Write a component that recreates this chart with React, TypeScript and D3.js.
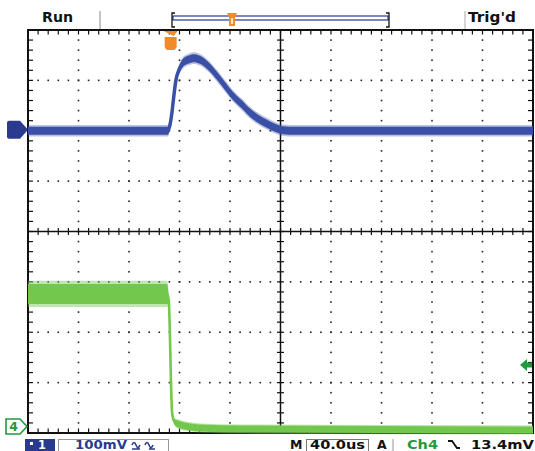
import React from 'react';
import * as d3 from 'd3';

const W = 535;
const H = 451;

// Horizontal: 10 divisions, 40 µs/div ; vertical: 8 divisions
const TIME_PER_DIV_US = 40;
const H_DIVS = 10;
const V_DIVS = 8;
const MINOR_PER_DIV = 5;

// Channel 1 (blue, 100 mV/div), ground marker at +2 div
const CH1_MV_PER_DIV = 100;
const CH1_POSITION_DIV = 2.0;
const ch1TimeUs = [0, 110.9, 112.5, 114.1, 115.6, 117.2, 119.6, 122.8, 126.7, 131.5, 136.2, 142.6, 149.7, 156.0, 162.4, 169.5, 175.8, 182.2, 189.3, 195.6, 202.0, 211.5, 400];
const ch1Mv = [0, 0, 12, 38, 71, 101, 121, 135, 141, 144, 141, 129, 109, 89, 69, 52, 36, 24, 14, 6, 1, 0, 0];
const ch1NoiseMv = [8, 8, 6, 4, 4, 5, 7, 8, 8, 8, 8, 8, 8, 8, 8, 8, 8, 8, 8, 8, 8, 8, 8];

// Channel 4 (green), values in divisions above its ground marker
const CH4_POSITION_DIV = -3.94;
const ch4TimeUs = [0, 110.1, 110.9, 111.7, 112.5, 113.3, 114.1, 115.6, 118.8, 124.3, 136.2, 167.9, 400];
const ch4Div = [2.7, 2.7, 2.66, 2.48, 1.79, 0.89, 0.36, 0.18, 0.12, 0.08, 0.04, 0.02, 0];
const ch4NoiseDiv = [0.2, 0.2, 0.15, 0.04, 0.02, 0.02, 0.03, 0.05, 0.07, 0.07, 0.07, 0.07, 0.07];

// Trigger
const TRIGGER_US = 113;
const CH4_TRIG_LEVEL_DIV = 1.29;

// Readout labels
const topLeftLabel = 'Run';
const topRightLabel = "Trig'd";
const ch1Label = '1';
const ch1Scale = '100mV';
const timebaseLabel = '40.0us';
const trigSourceLabel = 'Ch4';
const trigLevelLabel = '13.4mV';

const BLUE = '#3a4fa6';
const BLUE_DARK = '#2a3a8e';
const GREEN = '#72c74c';
const GREEN_DARK = '#1e9b3c';
const ORANGE = '#f28a2a';
const FONT = '"DejaVu Sans", Verdana, sans-serif';

export default function App() {
  const x = d3.scaleLinear().domain([0, H_DIVS * TIME_PER_DIV_US]).range([28, 533]);
  const y = d3.scaleLinear().domain([-V_DIVS / 2, V_DIVS / 2]).range([433, 30]);

  const x0 = x(0), x1 = x(H_DIVS * TIME_PER_DIV_US);
  const y0 = y(-V_DIVS / 2), y1 = y(V_DIVS / 2);
  const xc = x(H_DIVS * TIME_PER_DIV_US / 2), yc = y(0);

  const minorT = d3.range(0, H_DIVS * MINOR_PER_DIV + 1).map(i => (i * TIME_PER_DIV_US) / MINOR_PER_DIV);
  const minorV = d3.range(0, V_DIVS * MINOR_PER_DIV + 1).map(i => -V_DIVS / 2 + i / MINOR_PER_DIV);
  const majorT = d3.range(1, H_DIVS).filter(i => i !== H_DIVS / 2).map(i => i * TIME_PER_DIV_US);
  const majorV = d3.range(-V_DIVS / 2 + 1, V_DIVS / 2).filter(v => v !== 0);

  const dots: { cx: number; cy: number }[] = [];
  majorT.forEach(t => minorV.slice(1, -1).forEach(v => dots.push({ cx: x(t), cy: y(v) })));
  majorV.forEach(v => minorT.slice(1, -1).forEach(t => dots.push({ cx: x(t), cy: y(v) })));

  // Channel 1 paths
  const ch1Pts = ch1TimeUs.map((t, i) => ({ t, v: ch1Mv[i], n: ch1NoiseMv[i] }));
  const c1y = (mv: number) => y(CH1_POSITION_DIV + mv / CH1_MV_PER_DIV);
  const ch1Area = d3.area<any>().x(d => x(d.t)).y0(d => c1y(d.v - d.n)).y1(d => c1y(d.v + d.n)).curve(d3.curveMonotoneX)(ch1Pts) || '';
  const ch1AreaWide = d3.area<any>().x(d => x(d.t)).y0(d => c1y(d.v - d.n * 1.45)).y1(d => c1y(d.v + d.n * 1.45)).curve(d3.curveMonotoneX)(ch1Pts) || '';
  const ch1Line = d3.line<any>().x(d => x(d.t)).y(d => c1y(d.v)).curve(d3.curveMonotoneX)(ch1Pts) || '';

  // Channel 4 paths
  const ch4Pts = ch4TimeUs.map((t, i) => ({ t, v: ch4Div[i], n: ch4NoiseDiv[i] }));
  const c4y = (dv: number) => y(CH4_POSITION_DIV + dv);
  const ch4Area = d3.area<any>().x(d => x(d.t)).y0(d => c4y(d.v - d.n)).y1(d => c4y(d.v + d.n)).curve(d3.curveMonotoneX)(ch4Pts) || '';
  const ch4AreaWide = d3.area<any>().x(d => x(d.t)).y0(d => c4y(d.v - d.n * 1.3)).y1(d => c4y(d.v + d.n * 1.3)).curve(d3.curveMonotoneX)(ch4Pts) || '';
  const ch4Line = d3.line<any>().x(d => x(d.t)).y(d => c4y(d.v)).curve(d3.curveMonotoneX)(ch4Pts) || '';

  const tx = x(TRIGGER_US);
  const ch1G = c1y(0);
  const ch4G = c4y(0);
  const trigY = c4y(CH4_TRIG_LEVEL_DIV);
  const FY = 449; // footer baseline

  return (
    <svg width={W} height={H} style={{ position: 'absolute', left: 0, top: 0, background: '#fff' }} fontFamily={FONT}>
      <rect x={0} y={0} width={W} height={H} fill="#fff" />

      {/* header */}
      <text x={42} y={22} fontSize={13.5} fontWeight="bold" fill="#111" textLength={31} lengthAdjust="spacingAndGlyphs">{topLeftLabel}</text>
      <line x1={100} x2={100} y1={11} y2={29} stroke="#888" strokeWidth={1} />
      <line x1={465} x2={465} y1={11} y2={29} stroke="#aaa" strokeWidth={1} />
      <text x={468} y={22} fontSize={13.5} fontWeight="bold" fill="#111" textLength={48} lengthAdjust="spacingAndGlyphs">{topRightLabel}</text>
      {/* record bar */}
      <rect x={173} y={16} width={215} height={4} fill="none" stroke={BLUE_DARK} strokeWidth={1.2} />
      <path d="M175,13 L172,13 L172,27 L175,27" fill="none" stroke="#111" strokeWidth={1.3} />
      <path d="M386,13 L389,13 L389,27 L386,27" fill="none" stroke="#111" strokeWidth={1.3} />
      <path d="M227,13 L237,13 L235,17 L235,26 L229,26 L229,17 Z" fill={ORANGE} />
      <rect x={231.2} y={18} width={1.6} height={6} fill="#fff" />

      {/* dotted grid */}
      {dots.map((d, i) => (
        <rect key={i} x={d.cx - 0.8} y={d.cy - 0.8} width={1.6} height={1.6} fill="#222" />
      ))}

      {/* border & center ticks */}
      {minorT.slice(1, -1).map((t, i) => (
        <g key={'t' + i} stroke="#111" strokeWidth={1.2}>
          <line x1={x(t)} x2={x(t)} y1={y1} y2={y1 + 4.5} />
          <line x1={x(t)} x2={x(t)} y1={y0} y2={y0 - 4.5} />
          <line x1={x(t)} x2={x(t)} y1={yc - 3.5} y2={yc + 3.5} />
        </g>
      ))}
      {minorV.slice(1, -1).map((v, i) => (
        <g key={'v' + i} stroke="#111" strokeWidth={1.2}>
          <line x1={x0} x2={x0 + 5} y1={y(v)} y2={y(v)} />
          <line x1={x1} x2={x1 - 5} y1={y(v)} y2={y(v)} />
          <line x1={xc - 3.5} x2={xc + 3.5} y1={y(v)} y2={y(v)} />
        </g>
      ))}
      <line x1={xc} x2={xc} y1={y1} y2={y0} stroke="#111" strokeWidth={1.5} />
      <line x1={x0} x2={x1} y1={yc} y2={yc} stroke="#111" strokeWidth={1.5} />
      <rect x={x0} y={y1} width={x1 - x0} height={y0 - y1} fill="none" stroke="#111" strokeWidth={2} />

      {/* channel 4 trace */}
      <path d={ch4AreaWide} fill={GREEN} opacity={0.45} />
      <path d={ch4Area} fill={GREEN} />
      <path d={ch4Line} fill="none" stroke={GREEN} strokeWidth={2.6} />

      {/* channel 1 trace */}
      <path d={ch1AreaWide} fill={BLUE} opacity={0.35} />
      <path d={ch1Area} fill={BLUE} />
      <path d={ch1Line} fill="none" stroke={BLUE} strokeWidth={3.5} />

      {/* trigger position marker */}
      <path d={`M${tx - 7},${y1 + 1} L${tx + 7},${y1 + 1} L${tx + 3},${y1 + 6} Z`} fill={ORANGE} />
      <path d={`M${tx - 6},${y1 + 7} L${tx + 6},${y1 + 7} L${tx + 6},${y1 + 17} L${tx + 4},${y1 + 20} L${tx - 4},${y1 + 20} L${tx - 6},${y1 + 17} Z`} fill={ORANGE} />

      {/* channel ground markers */}
      <path d={`M9,${ch1G - 10} L20,${ch1G - 10} L28,${ch1G - 1} L20,${ch1G + 8} L9,${ch1G + 8} Q7,${ch1G + 8} 7,${ch1G + 6} L7,${ch1G - 8} Q7,${ch1G - 10} 9,${ch1G - 10} Z`} fill={BLUE_DARK} />
      <path d={`M6,${ch4G - 11} L20,${ch4G - 11} L27,${ch4G - 3.5} L20,${ch4G + 4} L6,${ch4G + 4} Z`} fill="#fff" stroke={GREEN_DARK} strokeWidth={1.6} />
      <text x={13.5} y={ch4G + 1.5} fontSize={12.5} fontWeight="bold" fill={GREEN_DARK} textAnchor="middle">4</text>

      {/* trigger level arrow */}
      <path d={`M${x1 - 13},${trigY} L${x1 - 6},${trigY - 6} L${x1 - 6},${trigY - 2.5} L${x1 - 1},${trigY - 2.5} L${x1 - 1},${trigY + 2.5} L${x1 - 6},${trigY + 2.5} L${x1 - 6},${trigY + 6} Z`} fill={GREEN_DARK} />

      {/* footer readouts */}
      <rect x={25} y={439} width={30} height={12} fill={BLUE_DARK} />
      <rect x={30} y={442} width={3} height={3} fill="#fff" />
      <text x={38} y={FY} fontSize={11.5} fontWeight="bold" fill="#fff">{ch1Label}</text>
      <rect x={58.5} y={439.5} width={110} height={12} fill="none" stroke="#999" strokeWidth={1} />
      <text x={75} y={FY} fontSize={12.5} fontWeight="bold" fill={BLUE_DARK} textLength={52} lengthAdjust="spacingAndGlyphs">{ch1Scale}</text>
      <path d="M132,445 q2,-5 4,0 t4,0 M132,449 l8,0" fill="none" stroke={BLUE_DARK} strokeWidth={1.6} />
      <path d="M145,445 q2,-5 4,0 t4,0 M149,449 l6,0" fill="none" stroke={BLUE_DARK} strokeWidth={1.6} />

      <text x={290} y={FY} fontSize={12.5} fontWeight="bold" fill="#111">M</text>
      <rect x={306.5} y={439.5} width={62} height={12} fill="none" stroke="#777" strokeWidth={1} />
      <text x={310} y={FY} fontSize={12.5} fontWeight="bold" fill="#111" textLength={55} lengthAdjust="spacingAndGlyphs">{timebaseLabel}</text>
      <text x={377} y={FY} fontSize={12.5} fontWeight="bold" fill="#111">A</text>
      <line x1={393} x2={393} y1={439} y2={451} stroke="#999" strokeWidth={1} />
      <text x={407} y={FY} fontSize={12.5} fontWeight="bold" fill={GREEN_DARK} textLength={31} lengthAdjust="spacingAndGlyphs">{trigSourceLabel}</text>
      <path d="M448,441 l4,0 l5,7 l3,0" fill="none" stroke="#111" strokeWidth={1.8} />
      <text x={471} y={FY} fontSize={12.5} fontWeight="bold" fill="#111" textLength={63} lengthAdjust="spacingAndGlyphs">{trigLevelLabel}</text>
    </svg>
  );
}
